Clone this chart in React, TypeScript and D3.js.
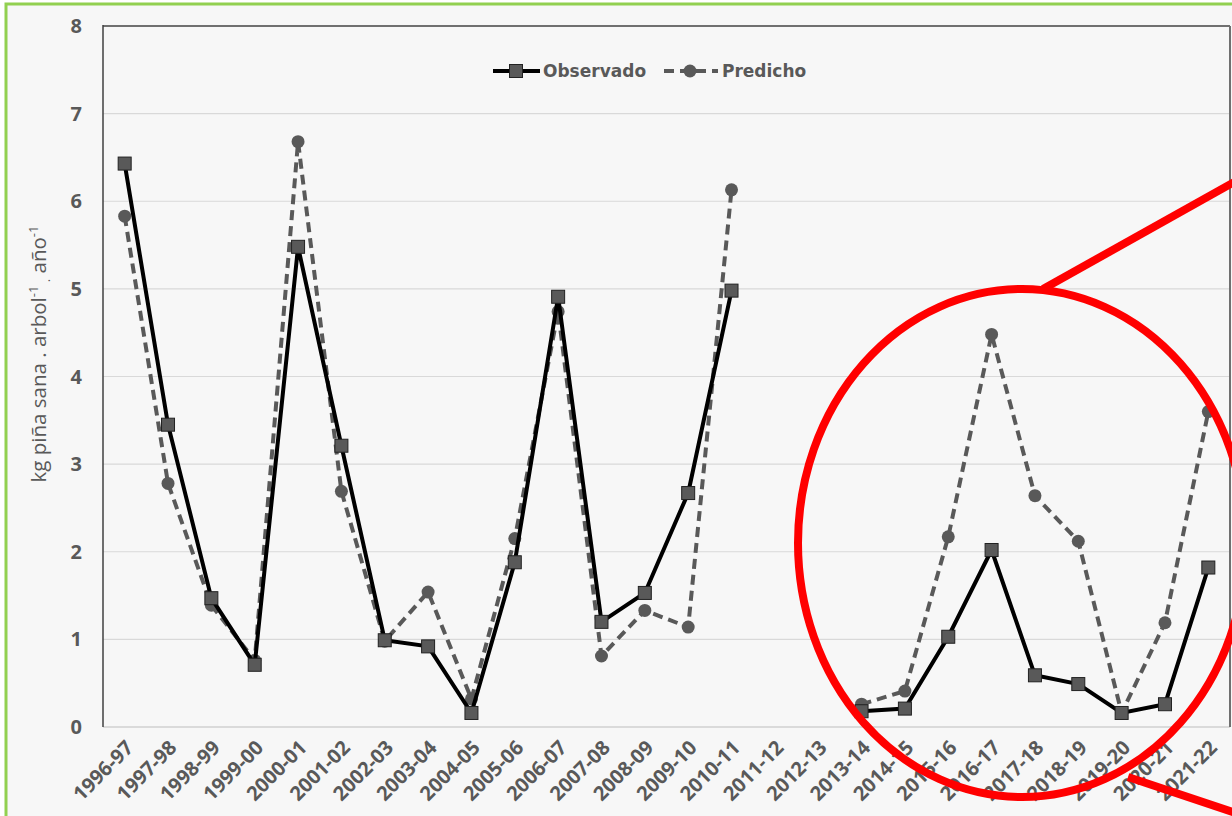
import * as d3 from "d3";

const seasons = [
  "1996-97", "1997-98", "1998-99", "1999-00", "2000-01", "2001-02", "2002-03",
  "2003-04", "2004-05", "2005-06", "2006-07", "2007-08", "2008-09", "2009-10",
  "2010-11", "2011-12", "2012-13", "2013-14", "2014-15", "2015-16", "2016-17",
  "2017-18", "2018-19", "2019-20", "2020-21", "2021-22",
];

const observado: (number | null)[] = [
  6.43, 3.45, 1.47, 0.71, 5.48, 3.21, 0.99, 0.92, 0.16, 1.88, 4.91, 1.2, 1.53,
  2.67, 4.98, null, null, 0.18, 0.21, 1.03, 2.02, 0.59, 0.49, 0.16, 0.26, 1.82,
];

const predicho: (number | null)[] = [
  5.83, 2.78, 1.39, 0.76, 6.68, 2.69, 0.98, 1.54, 0.32, 2.15, 4.74, 0.81, 1.33,
  1.14, 6.13, null, null, 0.26, 0.41, 2.17, 4.48, 2.64, 2.12, 0.16, 1.19, 3.6,
];

const yTicks = [0, 1, 2, 3, 4, 5, 6, 7, 8];

const W = 1232;
const H = 816;
const left = 103;
const right = 1230;
const top = 26;
const bottom = 727;
const labelGray = "#595959";
const markGray = "#595959";

export default function App() {
  const x = d3.scalePoint<string>().domain(seasons).range([left, right]).padding(0.5);
  const y = d3.scaleLinear().domain([0, 8]).range([bottom, top]);

  type Pt = { s: string; v: number | null };
  const obsPts: Pt[] = seasons.map((s, i) => ({ s, v: observado[i] }));
  const predPts: Pt[] = seasons.map((s, i) => ({ s, v: predicho[i] }));

  const line = d3
    .line<Pt>()
    .defined((d) => d.v != null)
    .x((d) => x(d.s)!)
    .y((d) => y(d.v as number));

  const sq = 13;

  return (
    <div style={{ position: "fixed", left: 0, top: 0 }}>
      <svg width={W} height={H} style={{ display: "block", background: "#fff" }}>
        <rect x={6} y={4} width={W + 20} height={H + 20} fill="#f7f7f7" stroke="#92d050" strokeWidth={3} />

        {/* gridlines */}
        {yTicks.slice(1, -1).map((t) => (
          <line key={t} x1={left} x2={right} y1={y(t)} y2={y(t)} stroke="#d9d9d9" strokeWidth={1.2} />
        ))}
        <line x1={left} x2={right} y1={bottom} y2={bottom} stroke="#d0d0d0" strokeWidth={1.5} />
        <line x1={left} x2={right} y1={top} y2={top} stroke="#707070" strokeWidth={2} />
        <line x1={right} x2={right} y1={top} y2={bottom} stroke="#707070" strokeWidth={2} />
        <line x1={left} x2={left} y1={top - 1} y2={bottom} stroke="#404040" strokeWidth={1.5} />

        {/* y tick labels */}
        {yTicks.map((t) => (
          <text
            key={t}
            x={82}
            y={y(t)}
            dy="0.35em"
            textAnchor="end"
            fontFamily="'Open Sans', sans-serif"
            fontWeight="bold"
            fontSize={20}
            fill={labelGray}
          >
            {t}
          </text>
        ))}

        {/* x tick labels */}
        {seasons.map((s) => (
          <text
            key={s}
            transform={`translate(${x(s)! + 5}, ${bottom + 17}) rotate(-45)`}
            textAnchor="end"
            dy="0.35em"
            fontFamily="'Open Sans', sans-serif"
            fontWeight="bold"
            fontSize={20}
            fill={labelGray}
          >
            {s}
          </text>
        ))}

        {/* y title */}
        <text
          transform={`translate(46, 354) rotate(-90)`}
          textAnchor="middle"
          fontFamily="'Open Sans', sans-serif"
          fontSize={20.5}
          fill={labelGray}
        >
          kg piña sana . arbol
          <tspan dy={-8} fontSize={13}>-1</tspan>
          <tspan dy={12} fontSize={13}> .</tspan>
          <tspan dy={-4}> año</tspan>
          <tspan dy={-8} fontSize={13}>-1</tspan>
        </text>

        {/* Predicho */}
        <path d={line(predPts) ?? ""} fill="none" stroke={markGray} strokeWidth={4} strokeDasharray="10 6" />
        {predPts
          .filter((d) => d.v != null)
          .map((d) => (
            <circle key={d.s} cx={x(d.s)} cy={y(d.v as number)} r={6.5} fill={markGray} />
          ))}

        {/* Observado */}
        <path d={line(obsPts) ?? ""} fill="none" stroke="#000" strokeWidth={4} />
        {obsPts
          .filter((d) => d.v != null)
          .map((d) => (
            <rect
              key={d.s}
              x={x(d.s)! - sq / 2}
              y={y(d.v as number) - sq / 2}
              width={sq}
              height={sq}
              fill={markGray}
              stroke="#222"
              strokeWidth={1}
            />
          ))}

        {/* legend */}
        <g fontFamily="'DejaVu Sans', sans-serif" fontWeight="bold" fontSize={17} fill={labelGray}>
          <line x1={493} x2={540} y1={71} y2={71} stroke="#000" strokeWidth={4} />
          <rect x={516 - sq / 2} y={71 - sq / 2} width={sq} height={sq} fill={markGray} stroke="#222" />
          <text x={543} y={71} dy="0.36em">Observado</text>
          <line x1={664} x2={718} y1={71} y2={71} stroke={markGray} strokeWidth={4} strokeDasharray="10 6" />
          <circle cx={690} cy={71} r={6.5} fill={markGray} />
          <text x={722} y={71} dy="0.36em">Predicho</text>
        </g>

        {/* red highlight */}
        <g fill="none" stroke="#ff0000" strokeWidth={8}>
          <ellipse cx={1022} cy={543} rx={224} ry={254} />
          <line x1={1043} y1={289} x2={1245} y2={176} />
          <line x1={1128} y1={777} x2={1245} y2={816} />
        </g>
      </svg>
    </div>
  );
}
